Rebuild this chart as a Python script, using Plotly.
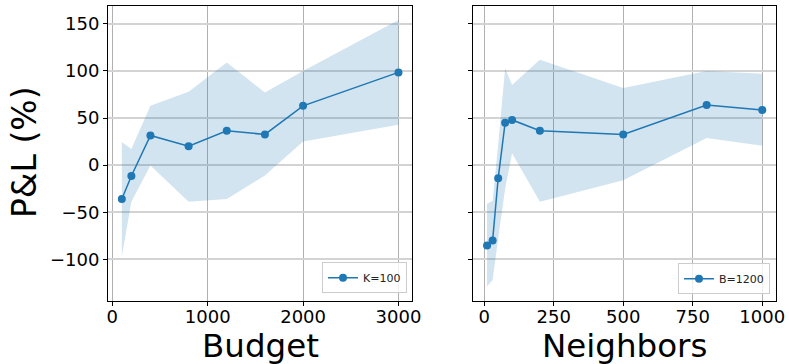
import plotly.graph_objects as go

# Left panel: K=100
budget = [100, 200, 400, 800, 1200, 1600, 2000, 3000]
pnl_budget = [-36, -11.5, 31.5, 20, 36.5, 32.6, 63, 98.5]
upper_budget = [24.5, 17, 63, 78, 109, 77, 100, 154]
lower_budget = [-97, -39, -0.5, -39, -36, -11, 25, 43]

# Right panel: B=1200
neighbors = [10, 30, 50, 75, 100, 200, 500, 800, 1000]
pnl_neighbors = [-85.5, -80, -14, 45, 48, 36.5, 32.6, 63.8, 58.5]
upper_neighbors = [-41, -38, 22, 103, 85, 112, 82, 100, 97]
lower_neighbors = [-129, -122, -78, -25, 12.5, -39, -16, 28.7, 20.5]

y_ticks = [-100, -50, 0, 50, 100, 150]

BLUE = "#1f77b4"
FILL = "rgba(31,119,180,0.2)"
FONT = "DejaVu Sans"
W, H = 789, 364

fig = go.Figure()

def add_panel(x, y, lo, hi, name, xa, ya, legend):
    fig.add_trace(go.Scatter(x=x, y=lo, mode="lines", line=dict(width=0, color=FILL),
                             showlegend=False, hoverinfo="skip", xaxis=xa, yaxis=ya))
    fig.add_trace(go.Scatter(x=x, y=hi, mode="lines", line=dict(width=0, color=FILL),
                             fill="tonexty", fillcolor=FILL, showlegend=False,
                             hoverinfo="skip", xaxis=xa, yaxis=ya))
    fig.add_trace(go.Scatter(x=x, y=y, mode="lines+markers", name=name,
                             line=dict(color=BLUE, width=1.5),
                             marker=dict(color=BLUE, size=8),
                             xaxis=xa, yaxis=ya, legend=legend))

add_panel(budget, pnl_budget, lower_budget, upper_budget, "K=100", "x", "y", "legend")
add_panel(neighbors, pnl_neighbors, lower_neighbors, upper_neighbors, "B=1200", "x2", "y2", "legend2")

ydom = [(H - 300.7) / H, (H - 6) / H]
axis_common = dict(showline=True, mirror=True, linecolor="black", linewidth=1,
                   ticks="outside", ticklen=4, tickcolor="black", tickwidth=1,
                   zeroline=False, automargin=False,
                   tickfont=dict(family=FONT, size=18, color="black"))

fig.update_layout(
    width=W, height=H,
    margin=dict(l=0, r=0, t=0, b=0),
    paper_bgcolor="white", plot_bgcolor="white",
    font=dict(family=FONT, color="black"),
    xaxis=dict(domain=[108 / W, 412.3 / W], range=[-45, 3145],
               tickvals=[0, 1000, 2000, 3000], showgrid=True, ticklabelstandoff=-4,
               gridcolor="#b0b0b0", gridwidth=1, anchor="y", **axis_common),
    yaxis=dict(domain=ydom, range=[-144, 169], tickvals=y_ticks,
               showgrid=True, gridcolor="#d3d3d3", gridwidth=1.6, anchor="x", **axis_common),
    xaxis2=dict(domain=[473.3 / W, 776 / W], range=[-39.5, 1049.5],
                tickvals=[0, 250, 500, 750, 1000], showgrid=True, ticklabelstandoff=-4,
                gridcolor="#b0b0b0", gridwidth=1, anchor="y2", **axis_common),
    yaxis2=dict(domain=ydom, range=[-144, 169], tickvals=y_ticks, showticklabels=False,
                showgrid=True, gridcolor="#d3d3d3", gridwidth=1.6, anchor="x2", **axis_common),
    legend=dict(x=407 / W, y=(H - 293.3) / H, xanchor="right", yanchor="bottom",
                bgcolor="rgba(255,255,255,0.8)", bordercolor="#cccccc", borderwidth=1,
                font=dict(family=FONT, size=11, color="#222222")),
    legend2=dict(x=770 / W, y=(H - 294.3) / H, xanchor="right", yanchor="bottom",
                 bgcolor="rgba(255,255,255,0.8)", bordercolor="#cccccc", borderwidth=1,
                 font=dict(family=FONT, size=11, color="#222222")),
    annotations=[
        dict(text="Budget", x=260 / W, y=(H - 345.6) / H, xref="paper", yref="paper",
             xanchor="center", yanchor="middle", showarrow=False,
             font=dict(family=FONT, size=32.5, color="black")),
        dict(text="Neighbors", x=624.6 / W, y=(H - 345.6) / H, xref="paper", yref="paper",
             xanchor="center", yanchor="middle", showarrow=False,
             font=dict(family=FONT, size=32.5, color="black")),
        dict(text="P&L (%)", x=24.6 / W, y=(H - 152.5) / H, xref="paper", yref="paper",
             xanchor="center", yanchor="middle", showarrow=False, textangle=-90,
             font=dict(family=FONT, size=33, color="black")),
    ],
)

fig.write_html("out.html", config={"displayModeBar": False},
               post_script="document.body.style.margin='0';document.body.style.overflow='hidden';")
